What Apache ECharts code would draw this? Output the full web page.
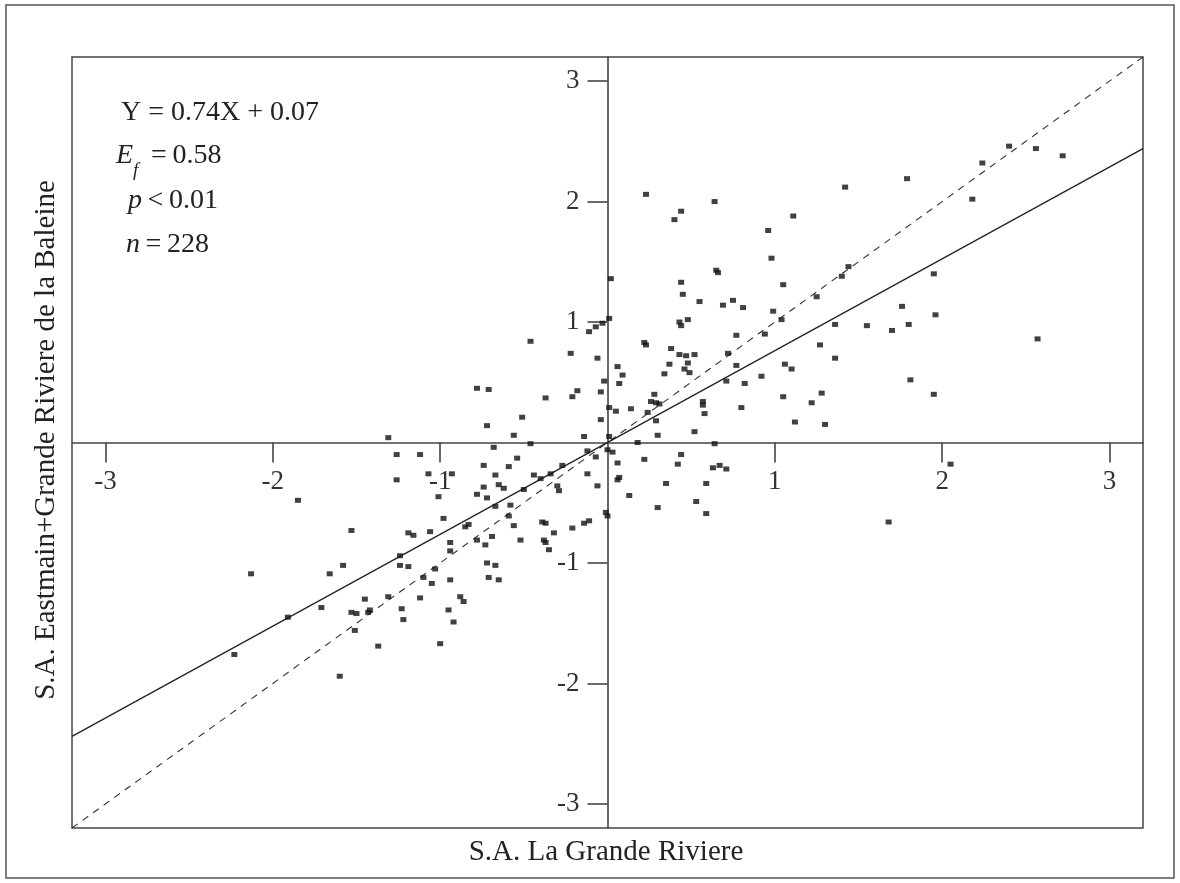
<!DOCTYPE html>
<html><head><meta charset="utf-8">
<script src="https://cdn.jsdelivr.net/npm/echarts@6/dist/echarts.min.js"></script>
<style>html,body{margin:0;padding:0;background:#fff}#c{width:1180px;height:883px}</style>
</head><body><div id="c"></div>
<script>
// Standardized anomalies (S.A.)
const laGrande = [
 0.23,0.64,0.44,0.40,1.11,0.96,0.98,0.02,0.65,0.66,0.44,0.45,1.05,0.55,0.69,0.75,0.81,0.99,1.04,0.43,
 0.44,0.48,0.01,-0.03,-0.07,-0.11,1.42,1.79,2.24,2.40,2.56,2.72,2.18,1.44,1.40,1.25,1.95,1.76,1.96,1.36,
 1.55,1.70,1.80,2.57,1.27,1.36,1.10,1.81,1.95,1.28,1.22,1.12,1.30,2.05,1.68,-0.22,0.22,0.23,0.38,0.43,
 0.47,0.52,0.37,0.48,0.46,0.49,0.34,-0.06,0.06,0.09,0.07,-0.02,-0.18,-0.21,-0.04,0.77,0.94,0.72,0.77,1.06,
 0.92,0.82,0.71,0.28,0.26,0.29,0.31,0.57,0.57,0.58,0.80,1.05,0.01,0.05,0.14,0.24,0.29,-0.04,0.52,0.30,
 -0.14,0.01,0.18,0.64,-0.12,0.00,0.03,-0.07,-0.27,-0.12,-0.06,0.06,0.22,0.44,0.42,0.63,0.67,0.71,0.06,0.07,
 0.35,0.59,0.13,0.30,0.53,0.59,-0.01,0.00,-0.11,-0.14,-0.21,-0.46,-0.78,-0.71,-0.37,-0.51,-0.72,-0.56,-0.46,-1.31,
 -0.68,-1.26,-1.12,-0.54,-0.74,-0.59,-1.26,-1.07,-0.93,-0.67,-0.44,-0.40,-0.34,-0.74,-0.65,-0.62,-0.50,-0.30,-0.29,-1.01,
 -0.78,-0.72,-0.67,-0.58,-0.59,-0.98,-0.85,-0.83,-0.56,-0.39,-0.37,-0.32,-1.19,-1.16,-1.06,-0.69,-0.94,-0.52,-0.38,-0.37,
 -0.78,-0.73,-0.94,-0.35,-1.24,-1.24,-1.19,-0.72,-0.67,-1.03,-1.10,-0.94,-0.71,-0.65,-1.85,-1.53,-1.58,-2.13,-1.66,-1.45,
 -1.31,-1.71,-1.91,-1.53,-1.50,-1.43,-1.42,-1.51,-1.37,-2.23,-1.60,-1.05,-1.12,-0.88,-0.86,-1.23,-1.22,-0.95,-0.92,-1.00
];
const eastmainBaleine = [
 2.06,2.00,1.92,1.85,1.88,1.76,1.53,1.36,1.43,1.41,1.33,1.23,1.31,1.17,1.14,1.18,1.12,1.09,1.02,1.00,
 0.97,1.02,1.03,0.99,0.96,0.92,2.12,2.19,2.32,2.46,2.44,2.38,2.02,1.46,1.38,1.21,1.40,1.13,1.06,0.98,
 0.97,0.93,0.98,0.86,0.81,0.70,0.61,0.52,0.40,0.41,0.33,0.17,0.15,-0.18,-0.66,0.74,0.83,0.81,0.78,0.73,
 0.72,0.73,0.65,0.66,0.61,0.58,0.57,0.70,0.63,0.56,0.49,0.51,0.43,0.38,0.42,0.89,0.90,0.74,0.64,0.65,
 0.55,0.49,0.51,0.40,0.34,0.33,0.32,0.34,0.31,0.24,0.29,0.38,0.29,0.26,0.28,0.25,0.18,0.19,0.09,0.06,
 0.05,0.05,0.00,-0.01,-0.07,-0.06,-0.08,-0.12,-0.19,-0.26,-0.36,-0.17,-0.14,-0.10,-0.18,-0.21,-0.19,-0.22,-0.31,-0.29,
 -0.34,-0.34,-0.44,-0.54,-0.49,-0.59,-0.58,-0.61,-0.65,-0.67,-0.71,0.84,0.45,0.44,0.37,0.21,0.14,0.06,-0.01,0.04,
 -0.04,-0.10,-0.10,-0.13,-0.19,-0.20,-0.31,-0.26,-0.26,-0.27,-0.27,-0.30,-0.26,-0.37,-0.35,-0.38,-0.39,-0.36,-0.40,-0.45,
 -0.43,-0.46,-0.53,-0.52,-0.61,-0.63,-0.70,-0.68,-0.69,-0.66,-0.67,-0.75,-0.75,-0.77,-0.74,-0.78,-0.83,-0.81,-0.81,-0.83,
 -0.81,-0.85,-0.90,-0.89,-0.94,-1.02,-1.03,-1.00,-1.02,-1.05,-1.12,-1.14,-1.12,-1.14,-0.48,-0.73,-1.02,-1.09,-1.09,-1.30,
 -1.28,-1.37,-1.45,-1.41,-1.42,-1.41,-1.39,-1.56,-1.69,-1.76,-1.94,-1.17,-1.29,-1.28,-1.32,-1.38,-1.47,-1.39,-1.49,-1.67
];
const tickValues = [-3, -2, -1, 1, 2, 3];
const axisRange = [-3.2, 3.2];
const fitLine = [[-3.2, -2.44], [3.2, 2.44]];
const identityLine = [[-3.2, -3.2], [3.2, 3.2]];
const xTitle = 'S.A. La Grande Riviere';
const yTitle = 'S.A. Eastmain+Grande Riviere de la Baleine';
const statsEquation = 'Y = 0.74X + 0.07';
const statsEf = '0.58';
const statsP = '0.01';
const statsN = '228';

const points = laGrande.map((x, i) => [x, eastmainBaleine[i]]);
const FONT = '"Liberation Serif", "DejaVu Serif", serif';
const INK = '#222';

// grid geometry (layout only)
const G = { left: 72, right: 37, top: 57, bottom: 55 };
const gridW = 1180 - G.left - G.right;
const gridH = 883 - G.top - G.bottom;

function valueAxis() {
  return {
    type: 'value', min: axisRange[0], max: axisRange[1],
    axisLine: { show: true, onZero: false, lineStyle: { color: '#444', width: 1.6 } },
    axisTick: { show: true, customValues: tickValues, length: 20, lineStyle: { color: '#444', width: 1.6 } },
    axisLabel: { show: true, customValues: tickValues, fontFamily: FONT, fontSize: 27, color: '#333', margin: 24 },
    splitLine: { show: false }
  };
}
const xAx = valueAxis(); xAx.position = 'bottom'; xAx.offset = -gridH / 2; xAx.axisLabel.margin = 26;
const yAx = valueAxis(); yAx.position = 'left'; yAx.offset = -gridW / 2; yAx.axisLabel.margin = 28;

const chart = echarts.init(document.getElementById('c'), null, { renderer: 'canvas' });
chart.setOption({
  animation: false,
  backgroundColor: '#fff',
  grid: Object.assign({ show: true, borderColor: '#444', borderWidth: 1.5, backgroundColor: 'transparent', containLabel: false }, G),
  xAxis: xAx,
  yAxis: yAx,
  series: [
    { type: 'line', data: identityLine, symbol: 'none', silent: true, z: 2,
      lineStyle: { color: '#333', width: 1.1, type: [7, 6] } },
    { type: 'line', data: fitLine, symbol: 'none', silent: true, z: 2,
      lineStyle: { color: '#222', width: 1.3 } },
    { type: 'scatter', data: points, symbol: 'rect', symbolSize: [6, 5], z: 5,
      itemStyle: { color: '#111' } }
  ],
  graphic: [
    { type: 'rect', shape: { x: 6, y: 5, width: 1168, height: 873 }, style: { fill: 'none', stroke: '#555', lineWidth: 1.5 }, silent: true },
    { type: 'text', x: 606, y: 852, style: { text: xTitle, fontFamily: FONT, fontSize: 29, fill: INK, align: 'center', verticalAlign: 'middle' } },
    { type: 'text', x: 46, y: 440, rotation: Math.PI / 2, style: { text: yTitle, fontFamily: FONT, fontSize: 29, fill: INK, align: 'center', verticalAlign: 'middle' } },
    { type: 'text', x: 121, y: 113, style: { text: statsEquation, fontFamily: FONT, fontSize: 28, fill: INK, align: 'left', verticalAlign: 'middle' } },
    { type: 'text', x: 116, y: 156, style: { text: 'E', fontFamily: FONT, fontStyle: 'italic', fontSize: 28, fill: INK, align: 'left', verticalAlign: 'middle' } },
    { type: 'text', x: 133, y: 171, style: { text: 'f', fontFamily: FONT, fontStyle: 'italic', fontSize: 19, fill: INK, align: 'left', verticalAlign: 'middle' } },
    { type: 'text', x: 151, y: 156, style: { text: '=\u2009' + statsEf, fontFamily: FONT, fontSize: 28, fill: INK, align: 'left', verticalAlign: 'middle' } },
    { type: 'text', x: 128, y: 201, style: { text: '{i|p}\u2009<\u2009' + statsP, fontFamily: FONT, fontSize: 28, fill: INK, align: 'left', verticalAlign: 'middle',
        rich: { i: { fontFamily: FONT, fontStyle: 'italic', fontSize: 28, fill: INK } } } },
    { type: 'text', x: 126, y: 245, style: { text: '{i|n}\u2009=\u2009' + statsN, fontFamily: FONT, fontSize: 28, fill: INK, align: 'left', verticalAlign: 'middle',
        rich: { i: { fontFamily: FONT, fontStyle: 'italic', fontSize: 28, fill: INK } } } }
  ]
});
</script>
</body></html>
